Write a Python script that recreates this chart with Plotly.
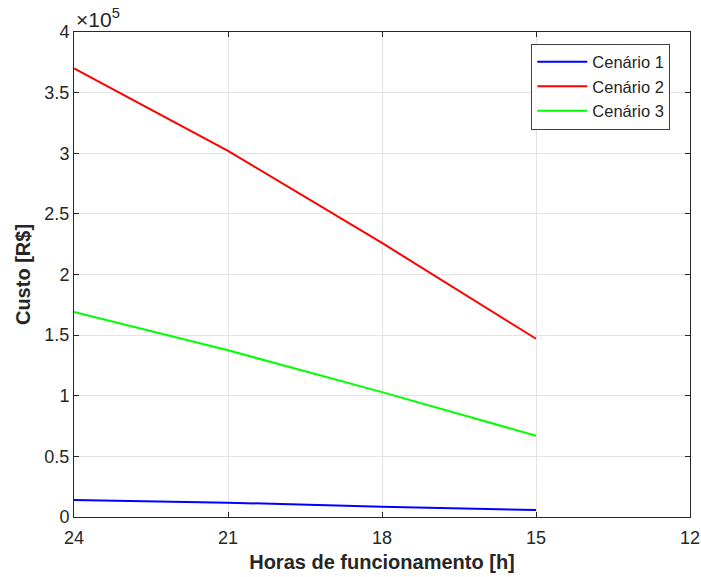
import plotly.graph_objects as go

horas = [24, 21, 18, 15]
cenario1 = [14000, 11800, 8500, 5700]
cenario2 = [370000, 302000, 226000, 147000]
cenario3 = [169000, 137500, 103000, 67000]
series_names = ["Cenário 1", "Cenário 2", "Cenário 3"]
series_colors = ["#0000ff", "#ff0000", "#00ff00"]
x_ticks = [24, 21, 18, 15, 12]
y_ticks = [0, 50000, 100000, 150000, 200000, 250000, 300000, 350000, 400000]
y_ticklabels = ["0", "0.5", "1", "1.5", "2", "2.5", "3", "3.5", "4"]

fig = go.Figure()
for name, vals, col in zip(series_names, [cenario1, cenario2, cenario3], series_colors):
    fig.add_trace(go.Scatter(x=horas, y=vals, mode="lines", name=name,
                             line=dict(color=col, width=2)))

FONT = "Liberation Sans, Arial"
axis_common = dict(
    showline=True, linecolor="#262626", linewidth=1, mirror="ticks",
    ticks="inside", ticklen=5, tickcolor="#262626",
    showgrid=True, gridcolor="#e3e3e3", gridwidth=1, zeroline=False,
    automargin=False,
    tickfont=dict(family=FONT, size=18, color="#262626"),
)

fig.update_layout(
    width=701, height=577,
    margin=dict(l=74, r=11, t=32, b=60),
    paper_bgcolor="white", plot_bgcolor="white",
    xaxis=dict(range=[24, 12], tickvals=x_ticks, ticktext=[str(t) for t in x_ticks],
               ticklabelstandoff=4,
               title=dict(text="<b>Horas de funcionamento [h]</b>", standoff=8,
                          font=dict(family=FONT, size=20, color="#262626")),
               **axis_common),
    yaxis=dict(range=[0, 400000], tickvals=y_ticks, ticktext=y_ticklabels,
               title=dict(text="<b>Custo [R$]</b>", standoff=8,
                          font=dict(family=FONT, size=20, color="#262626")),
               **axis_common),
    legend=dict(x=0.968, y=0.976, xanchor="right", yanchor="top",
                bgcolor="white", bordercolor="#404040", borderwidth=1,
                font=dict(family=FONT, size=16.5, color="#262626"),
                tracegroupgap=0, itemwidth=50),
    showlegend=True,
    annotations=[dict(text="×10<sup>5</sup>", x=0, y=1, xref="paper", yref="paper",
                      xanchor="left", yanchor="bottom", showarrow=False, yshift=-1,
                      font=dict(family=FONT, size=21, color="#262626"))],
)

fig.write_html("out.html")
